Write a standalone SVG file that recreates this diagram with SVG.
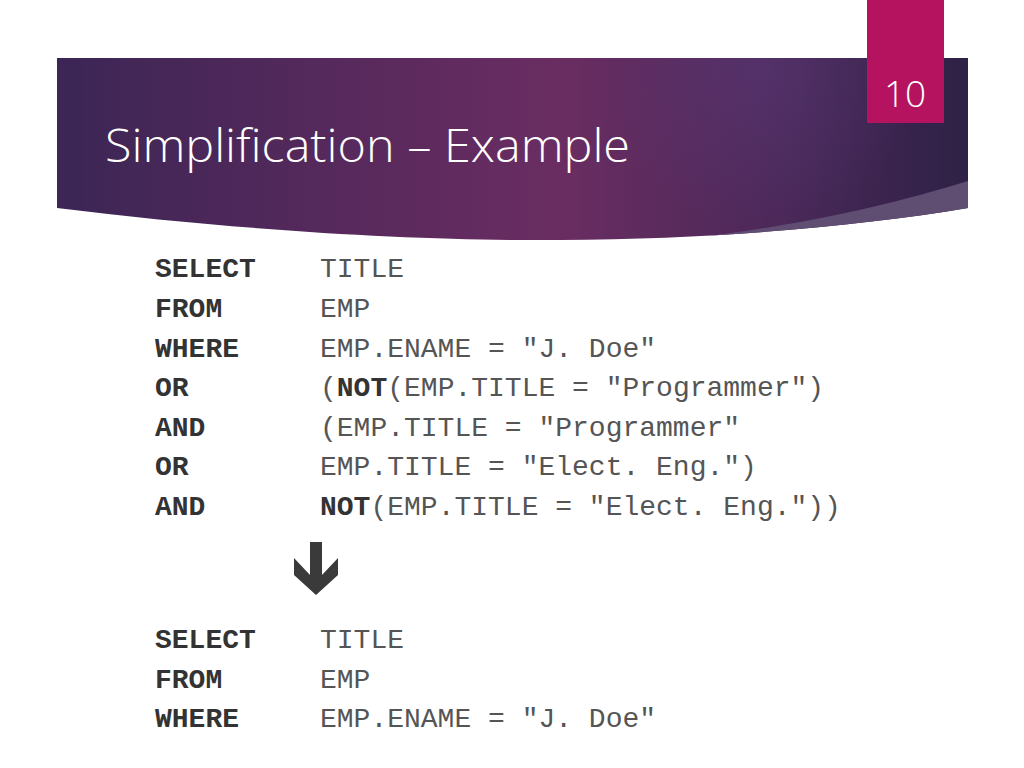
<svg xmlns="http://www.w3.org/2000/svg" width="1024" height="768" viewBox="0 0 1024 768">
  <defs>
    <linearGradient id="bandGrad" x1="57" y1="0" x2="968" y2="0" gradientUnits="userSpaceOnUse">
      <stop offset="0" stop-color="#3b2655"/>
      <stop offset="0.3" stop-color="#56295c"/>
      <stop offset="0.55" stop-color="#6a2d62"/>
      <stop offset="0.8" stop-color="#4a2858"/>
      <stop offset="1" stop-color="#2e2146"/>
    </linearGradient>
    <radialGradient id="glow" cx="760" cy="70" r="160" gradientUnits="userSpaceOnUse">
      <stop offset="0" stop-color="#5a3a7a" stop-opacity="0.5"/>
      <stop offset="1" stop-color="#5a3a7a" stop-opacity="0"/>
    </radialGradient>
    <clipPath id="bandClip">
      <path d="M57,58 L968,58 L968,208 C860,226 720,239 560,240 C430,241 250,232 57,208 Z"/>
    </clipPath>
    <style>
      .kw { font-family: "Liberation Mono", "Courier New", monospace; font-size: 28px; font-weight: bold; fill: #333333; }
      .code { font-family: "Liberation Mono", "Courier New", monospace; font-size: 28px; fill: #555555; }
      .b { font-weight: bold; fill: #333333; }
    </style>
  </defs>

  <rect x="0" y="0" width="1024" height="768" fill="#ffffff"/>

  <g id="header">
    <g clip-path="url(#bandClip)">
      <rect x="57" y="58" width="911" height="190" fill="url(#bandGrad)"/>
      <rect x="57" y="58" width="911" height="190" fill="url(#glow)"/>
      <path d="M968,181 C880,208 790,228 650,243 L968,260 Z" fill="#5f4d72"/>
    </g>
    <text x="105" y="162" font-family="'Open Sans', 'Noto Sans', sans-serif" font-weight="300" font-size="46" fill="#ffffff" textLength="525" lengthAdjust="spacingAndGlyphs">Simplification – Example</text>
  </g>

  <g id="page-number">
    <rect x="867" y="0" width="77" height="123" fill="#b5135f"/>
    <text x="905" y="107" text-anchor="middle" font-family="'Open Sans', 'Noto Sans', sans-serif" font-weight="300" font-size="37" fill="#ffffff">10</text>
  </g>

  <g id="query-original">
    <text class="kw" x="155" y="277">SELECT</text>
    <text class="code" x="320" y="277">TITLE</text>
    <text class="kw" x="155" y="317">FROM</text>
    <text class="code" x="320" y="317">EMP</text>
    <text class="kw" x="155" y="357">WHERE</text>
    <text class="code" x="320" y="357">EMP.ENAME = "J. Doe"</text>
    <text class="kw" x="155" y="396">OR</text>
    <text class="code" x="320" y="396" xml:space="preserve">(<tspan class="b">NOT</tspan>(EMP.TITLE = "Programmer")</text>
    <text class="kw" x="155" y="436">AND</text>
    <text class="code" x="320" y="436" xml:space="preserve">(EMP.TITLE = "Programmer"</text>
    <text class="kw" x="155" y="475">OR</text>
    <text class="code" x="320" y="475" xml:space="preserve">EMP.TITLE = "Elect. Eng.")</text>
    <text class="kw" x="155" y="515">AND</text>
    <text class="code" x="320" y="515" xml:space="preserve"><tspan class="b">NOT</tspan>(EMP.TITLE = "Elect. Eng."))</text>
  </g>

  <g id="arrow">
    <polygon points="310,542 322,542 322,575 338,558 338,575 316,595 294,575 294,558 310,575" fill="#3a3a3a"/>
  </g>

  <g id="query-simplified">
    <text class="kw" x="155" y="648">SELECT</text>
    <text class="code" x="320" y="648">TITLE</text>
    <text class="kw" x="155" y="688">FROM</text>
    <text class="code" x="320" y="688">EMP</text>
    <text class="kw" x="155" y="727">WHERE</text>
    <text class="code" x="320" y="727" xml:space="preserve">EMP.ENAME = "J. Doe"</text>
  </g>
</svg>
